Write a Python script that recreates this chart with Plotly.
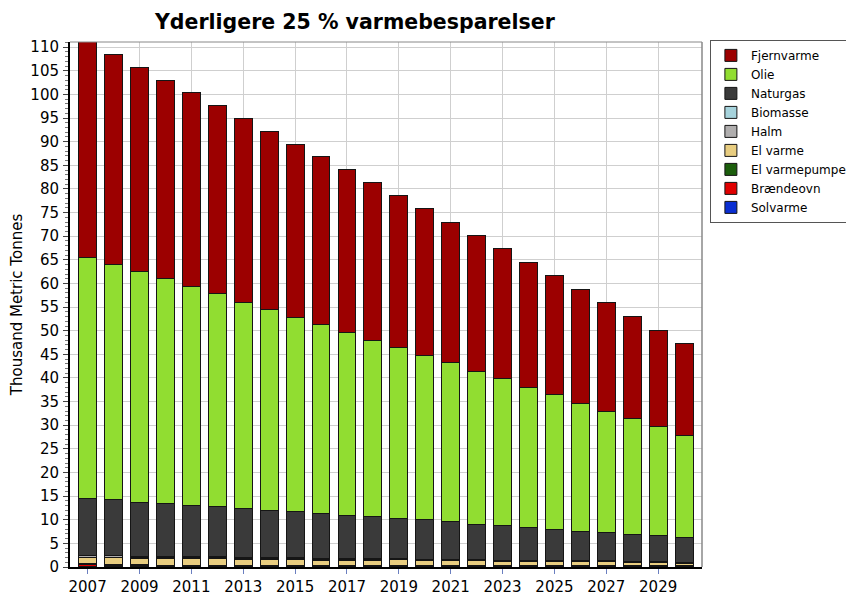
import plotly.graph_objects as go

# aar 2007-2030, tusind tons
years = list(range(2007, 2031))

solvarme = [0.1, 0.1, 0.1, 0.1, 0.1, 0.1, 0.1, 0.1, 0.1, 0.1, 0.1, 0.1,
            0.1, 0.1, 0.1, 0.1, 0.1, 0.1, 0.1, 0.1, 0.1, 0.1, 0.1, 0.1]
braendeovn = [0.4, 0.25, 0.15, 0.12, 0.1, 0.1, 0.1, 0.1, 0.08, 0.08, 0.08, 0.08,
              0.07, 0.07, 0.07, 0.06, 0.06, 0.06, 0.05, 0.05, 0.05, 0.05, 0.05, 0.05]
el_varmepumpe = [0.2, 0.2, 0.2, 0.2, 0.2, 0.2, 0.2, 0.2, 0.2, 0.2, 0.2, 0.2,
                 0.2, 0.2, 0.2, 0.2, 0.18, 0.18, 0.18, 0.17, 0.17, 0.16, 0.16, 0.15]
el_varme = [1.35, 1.5, 1.32, 1.36, 1.39, 1.4, 1.22, 1.23, 1.26, 1.08, 1.09, 1.1,
            1.12, 0.94, 0.95, 0.97, 0.79, 0.81, 0.83, 0.75, 0.76, 0.68, 0.59, 0.5]
halm = [0.3, 0.3, 0.28, 0.27, 0.26, 0.25, 0.24, 0.23, 0.22, 0.21, 0.2, 0.19,
        0.18, 0.17, 0.16, 0.15, 0.15, 0.14, 0.13, 0.12, 0.12, 0.11, 0.1, 0.1]
biomasse = [0.15, 0.15, 0.15, 0.15, 0.15, 0.15, 0.14, 0.14, 0.14, 0.13, 0.13, 0.13,
            0.13, 0.12, 0.12, 0.12, 0.12, 0.11, 0.11, 0.11, 0.1, 0.1, 0.1, 0.1]
naturgas = [11.9, 11.7, 11.5, 11.3, 10.9, 10.6, 10.3, 10.0, 9.7, 9.5, 9.2, 8.8,
            8.5, 8.4, 8.0, 7.5, 7.4, 6.9, 6.5, 6.3, 6.0, 5.65, 5.5, 5.2]
olie = [51.1, 49.9, 48.8, 47.5, 46.3, 45.1, 43.7, 42.5, 41.1, 40.0, 38.6, 37.4,
        36.2, 34.7, 33.6, 32.3, 31.0, 29.7, 28.5, 27.1, 25.6, 24.65, 23.1, 21.6]
fjernvarme = [45.8, 44.4, 43.2, 42.0, 41.0, 39.8, 39.0, 37.7, 36.7, 35.5, 34.5, 33.3,
              32.1, 31.1, 29.8, 28.7, 27.5, 26.4, 25.2, 24.1, 23.0, 21.5, 20.4, 19.4]

# nederst foerst
serier = [
    ("Solvarme", solvarme, "#0a2ed2"),
    ("Brændeovn", braendeovn, "#e00000"),
    ("El varmepumpe", el_varmepumpe, "#1c5e0c"),
    ("El varme", el_varme, "#e8cd80"),
    ("Halm", halm, "#b0aeae"),
    ("Biomasse", biomasse, "#a6d3dc"),
    ("Naturgas", naturgas, "#3a3a3a"),
    ("Olie", olie, "#91dd31"),
    ("Fjernvarme", fjernvarme, "#9c0000"),
]

font = "DejaVu Sans"

fig = go.Figure()
for navn, vals, farve in serier:
    fig.add_trace(go.Bar(x=years, y=vals, name=navn, marker_color=farve,
                         marker_line_color="#151515", marker_line_width=1))

# siden har 8px body-margin, saa figuren goeres 8px mindre
fig.update_layout(
    barmode="stack",
    bargap=0.31,
    width=846, height=593,
    margin=dict(l=62, r=152, t=34, b=34, autoexpand=False),
    paper_bgcolor="white", plot_bgcolor="white",
    font=dict(family=font, color="black"),
    title=dict(text="<b>Yderligere 25 % varmebesparelser</b>",
               font=dict(size=20.5, family=font),
               x=0.41, xanchor="center", y=0.976, yanchor="middle"),
    legend=dict(traceorder="reversed", x=1.0125, y=1.004, xanchor="left", yanchor="top",
                bgcolor="white", bordercolor="#555555", borderwidth=1,
                font=dict(size=12, family=font), itemwidth=30),
)

fig.update_xaxes(range=[2006.32, 2030.69], tickvals=years[::2], ticks="outside", ticklen=5,
                 tickcolor="#6b7fc0", showgrid=True, gridcolor="#cfcfcf",
                 showline=True, linecolor="black", linewidth=2,
                 tickfont=dict(size=15, family=font))
fig.update_yaxes(range=[0, 111.1], dtick=5, ticks="outside", ticklen=5, tickcolor="#444",
                 showgrid=True, gridcolor="#cfcfcf", ticklabelstandoff=1,
                 minor=dict(dtick=1, ticks="outside", ticklen=3, tickcolor="#777", showgrid=False),
                 showline=True, linecolor="black", linewidth=2,
                 tickfont=dict(size=15, family=font),
                 title=dict(text="Thousand Metric Tonnes", font=dict(size=15, family=font), standoff=6))

# graa ramme oppe og til hoejre
fig.add_shape(type="line", xref="paper", yref="paper", x0=0, x1=1, y0=1, y1=1,
              line=dict(color="#888888", width=1))
fig.add_shape(type="line", xref="paper", yref="paper", x0=1, x1=1, y0=0, y1=1,
              line=dict(color="#888888", width=1.5))

fig.write_html("out.html")
